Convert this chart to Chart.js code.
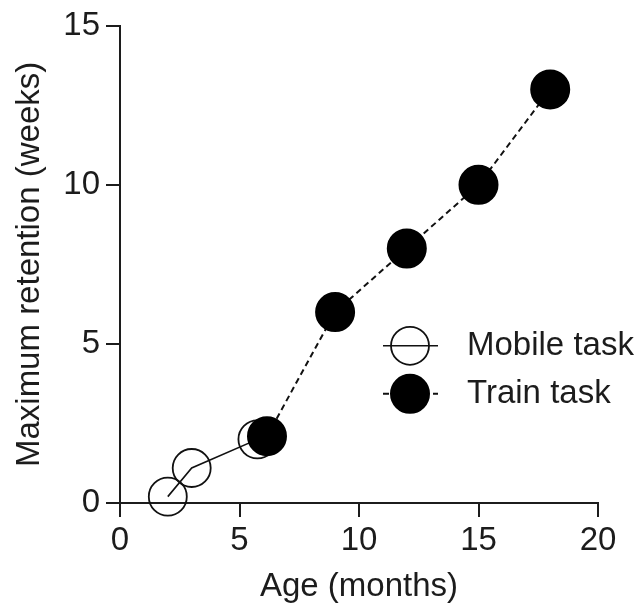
<!DOCTYPE html>
<html>
<head>
<meta charset="utf-8">
<script src="https://cdn.jsdelivr.net/npm/chart.js@4.4.1/dist/chart.umd.min.js"></script>
<style>
  html, body { margin: 0; padding: 0; background: #fff; }
  #wrap { width: 637px; height: 607px; position: relative; }
</style>
</head>
<body>
<div id="wrap"><canvas id="chart"></canvas></div>
<script>
// -----------------------------
// Data
// -----------------------------
const mobileAge = [2, 3, 5.75];
const mobileRetention = [0.2, 1.1, 2];
const trainAge = [6.15, 9, 12, 15, 18];
const trainRetention = [2.1, 6, 8, 10, 13];
const ageTicks = [0, 5, 10, 15, 20];
const retentionTicks = [0, 5, 10, 15];

const FONT = "'Liberation Sans', Arial, sans-serif";
const INK = "#1c1c1c";

function toPoints(xs, ys) {
    return xs.map((x, i) => ({ x: x, y: ys[i] }));
}

// -----------------------------
// Legend drawn inside the plot (line through marker)
// -----------------------------
const insideLegend = {
    id: "insideLegend",
    afterDatasetsDraw(chart) {
        const ctx = chart.ctx;
        const area = chart.chartArea;
        const x0 = area.left + 263;
        const y0 = area.top + 320;
        const rowGap = 48;
        const order = [1, 0];
        order.forEach((dsIndex, row) => {
            const ds = chart.data.datasets[dsIndex];
            const cy = y0 + row * rowGap;
            const cx = x0 + 27;
            ctx.save();
            ctx.strokeStyle = ds.borderColor;
            ctx.lineWidth = ds.borderWidth;
            ctx.setLineDash(ds.borderDash || []);
            ctx.beginPath();
            ctx.moveTo(x0, cy);
            ctx.lineTo(x0 + 55, cy);
            ctx.stroke();
            ctx.setLineDash([]);
            ctx.beginPath();
            ctx.arc(cx, cy, ds.pointRadius, 0, Math.PI * 2);
            ctx.fillStyle = ds.pointBackgroundColor;
            ctx.fill();
            ctx.lineWidth = ds.pointBorderWidth;
            ctx.strokeStyle = ds.pointBorderColor;
            ctx.stroke();
            ctx.fillStyle = INK;
            ctx.font = "33px " + FONT;
            ctx.textBaseline = "middle";
            ctx.textAlign = "left";
            ctx.fillText(ds.label, x0 + 84, cy);
            ctx.restore();
        });
    }
};

// -----------------------------
// Chart
// -----------------------------
const chart = new Chart(
    document.getElementById("chart"),
    {
        type: "scatter",
        data: {
            datasets: [
                {
                    label: "Train task",
                    data: toPoints(trainAge, trainRetention),
                    showLine: true,
                    borderColor: "#111",
                    borderWidth: 2,
                    borderDash: [6, 4],
                    pointRadius: 19,
                    pointHoverRadius: 19,
                    pointBackgroundColor: "#000",
                    pointBorderColor: "#000",
                    pointBorderWidth: 2,
                    clip: false
                },
                {
                    label: "Mobile task",
                    data: toPoints(mobileAge, mobileRetention),
                    showLine: true,
                    borderColor: "#111",
                    borderWidth: 1.6,
                    pointRadius: 19,
                    pointHoverRadius: 19,
                    pointBackgroundColor: "rgba(0,0,0,0)",
                    pointBorderColor: "#111",
                    pointBorderWidth: 1.8,
                    clip: false
                }
            ]
        },
        options: {
            responsive: true,
            maintainAspectRatio: false,
            animation: false,
            layout: {
                padding: { top: 25, right: 39, bottom: 0, left: 0 }
            },
            plugins: {
                legend: { display: false },
                tooltip: { enabled: false }
            },
            scales: {
                x: {
                    type: "linear",
                    min: 0,
                    max: 20,
                    afterBuildTicks: (scale) => {
                        scale.ticks = ageTicks.map(v => ({ value: v }));
                    },
                    afterFit: (scale) => { scale.height = 104; },
                    ticks: {
                        padding: 4,
                        color: INK,
                        font: { family: FONT, size: 33 }
                    },
                    grid: {
                        drawOnChartArea: false,
                        drawTicks: true,
                        tickLength: 14,
                        color: INK,
                        lineWidth: 2
                    },
                    border: { display: true, color: INK, width: 2 },
                    title: {
                        display: true,
                        text: "Age (months)",
                        color: INK,
                        font: { family: FONT, size: 33 },
                        padding: { top: 0, bottom: 0 }
                    }
                },
                y: {
                    type: "linear",
                    min: 0,
                    max: 15,
                    afterBuildTicks: (scale) => {
                        scale.ticks = retentionTicks.map(v => ({ value: v }));
                    },
                    afterFit: (scale) => { scale.width = 120; },
                    ticks: {
                        padding: 6,
                        color: INK,
                        font: { family: FONT, size: 33 }
                    },
                    grid: {
                        drawOnChartArea: false,
                        drawTicks: true,
                        tickLength: 14,
                        color: INK,
                        lineWidth: 2
                    },
                    border: { display: true, color: INK, width: 2 },
                    title: {
                        display: true,
                        text: "Maximum retention (weeks)",
                        color: INK,
                        font: { family: FONT, size: 33 },
                        padding: { top: 10, bottom: 0 }
                    }
                }
            }
        },
        plugins: [insideLegend]
    }
);
</script>
</body>
</html>
